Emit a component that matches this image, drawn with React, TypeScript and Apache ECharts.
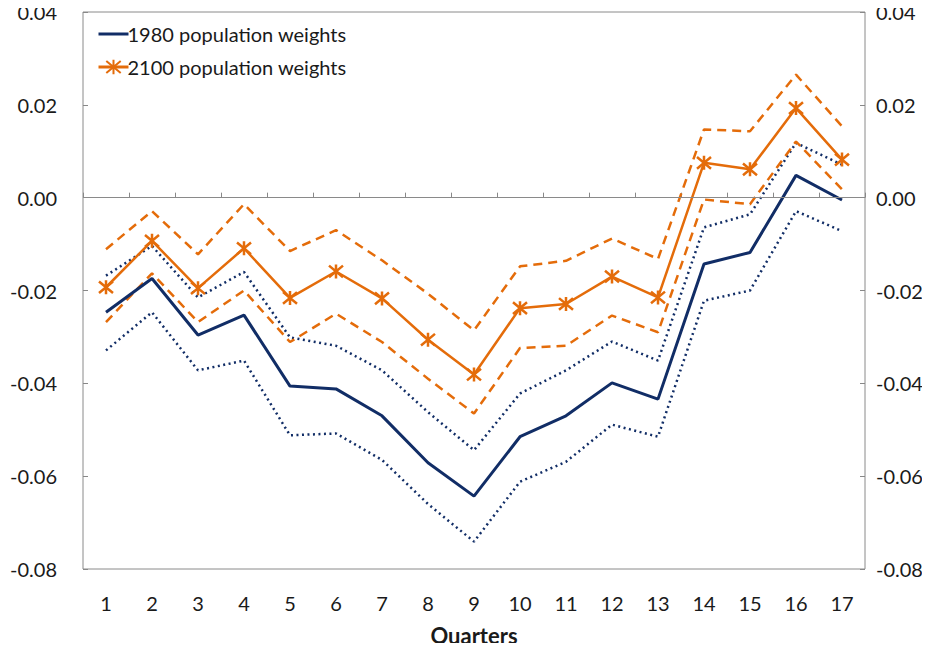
import React, { useEffect, useRef } from "react";
import * as echarts from "echarts";

const quarters = ["1", "2", "3", "4", "5", "6", "7", "8", "9", "10", "11", "12", "13", "14", "15", "16", "17"];

const pop1980 = [-0.0247, -0.0174, -0.0296, -0.0253, -0.0406, -0.0412, -0.047, -0.0571, -0.0643, -0.0515, -0.047, -0.0399, -0.0434, -0.0143, -0.0118, 0.0048, -0.0005];
const pop1980Upper = [-0.0168, -0.0104, -0.0215, -0.016, -0.0301, -0.0319, -0.0372, -0.0462, -0.0544, -0.0422, -0.0372, -0.031, -0.0351, -0.0064, -0.0036, 0.0118, 0.0071];
const pop1980Lower = [-0.0329, -0.0247, -0.0372, -0.0351, -0.0512, -0.0508, -0.0565, -0.066, -0.0741, -0.0612, -0.0569, -0.0489, -0.0515, -0.0222, -0.02, -0.0029, -0.0072];

const pop2100 = [-0.0193, -0.0093, -0.0195, -0.0109, -0.0216, -0.0159, -0.0217, -0.0306, -0.0381, -0.0238, -0.0229, -0.017, -0.0215, 0.0075, 0.0061, 0.0193, 0.0082];
const pop2100Upper = [-0.0111, -0.0029, -0.0122, -0.0014, -0.0115, -0.007, -0.0135, -0.0207, -0.0286, -0.0148, -0.0136, -0.0088, -0.0132, 0.0147, 0.0143, 0.0265, 0.0154];
const pop2100Lower = [-0.0268, -0.0163, -0.0268, -0.02, -0.0311, -0.025, -0.0311, -0.039, -0.0465, -0.0324, -0.0319, -0.0254, -0.029, -0.0004, -0.0014, 0.0121, 0.0018];

const NAVY = "#112d66";
const ORANGE = "#e46c0a";
const FONT = "Lato";
const TXT = "#1a1a1a";
const ASTERISK = "path://M0,0 L10,10 M10,0 L0,10 M5,-1 L5,11";

export default function App() {
  const ref = useRef<HTMLDivElement>(null);
  useEffect(() => {
    if (!ref.current) return;
    const chart = echarts.init(ref.current, null, { renderer: "svg" });
    const yAxisBase = {
      type: "value",
      min: -0.08,
      max: 0.04,
      interval: 0.02,
      splitLine: { show: false },
      axisLine: { show: false },
      axisTick: { show: true, inside: true, length: 5, lineStyle: { color: "#888" } },
      axisLabel: {
        formatter: (v: number) => v.toFixed(2),
        fontFamily: FONT,
        fontSize: 20,
        color: TXT,
      },
    };
    chart.setOption({
      animation: false,
      grid: {
        left: 83,
        right: 65,
        top: 12,
        bottom: 80,
        show: true,
        borderColor: "#8a8a8a",
        borderWidth: 1,
        backgroundColor: "transparent",
      },
      legend: {
        data: [
          { name: "1980 population weights", itemStyle: { opacity: 0 }, lineStyle: { width: 3 } },
          { name: "2100 population weights", lineStyle: { width: 3 } },
        ],
        orient: "vertical",
        left: 92,
        top: 19,
        itemGap: 13,
        itemWidth: 30,
        itemHeight: 18,
        textStyle: { fontFamily: FONT, fontSize: 20, color: TXT, padding: [0, 0, 0, -6] },
      },
      xAxis: {
        type: "category",
        data: quarters,
        boundaryGap: true,
        axisLine: { show: false },
        axisTick: { show: true, inside: true, length: 5, lineStyle: { color: "#888" } },
        axisLabel: { fontFamily: FONT, fontSize: 20, color: TXT, margin: 24 },
        name: "Quarters",
        nameLocation: "middle",
        nameGap: 55,
        nameTextStyle: { fontFamily: FONT, fontSize: 22, fontWeight: "bold", color: TXT },
      },
      yAxis: [
        { ...yAxisBase, position: "left", axisLabel: { ...yAxisBase.axisLabel, margin: 26 } },
        { ...yAxisBase, position: "right", axisLabel: { ...yAxisBase.axisLabel, margin: 11 } },
      ],
      series: [
        {
          name: "1980 upper",
          type: "line",
          data: pop1980Upper,
          symbol: "none",
          lineStyle: { color: NAVY, width: 2.5, type: [2, 3.5] },
          z: 2,
        },
        {
          name: "1980 lower",
          type: "line",
          data: pop1980Lower,
          symbol: "none",
          lineStyle: { color: NAVY, width: 2.5, type: [2, 3.5] },
          z: 2,
        },
        {
          name: "2100 upper",
          type: "line",
          data: pop2100Upper,
          symbol: "none",
          lineStyle: { color: ORANGE, width: 2.5, type: [9, 6] },
          z: 2,
        },
        {
          name: "2100 lower",
          type: "line",
          data: pop2100Lower,
          symbol: "none",
          lineStyle: { color: ORANGE, width: 2.5, type: [9, 6] },
          z: 2,
        },
        {
          name: "1980 population weights",
          type: "line",
          data: pop1980,
          symbol: "none",
          color: NAVY,
          lineStyle: { color: NAVY, width: 3 },
          z: 3,
          markLine: {
            silent: true,
            symbol: "none",
            label: { show: false },
            lineStyle: { color: "#8a8a8a", width: 1, type: "solid" },
            data: [{ yAxis: 0 }],
          },
        },
        {
          name: "2100 population weights",
          type: "line",
          data: pop2100,
          symbol: ASTERISK,
          symbolSize: 14,
          showAllSymbol: true,
          color: ORANGE,
          itemStyle: { color: ORANGE, borderColor: ORANGE, borderWidth: 2.5 },
          lineStyle: { color: ORANGE, width: 2.5 },
          z: 4,
        },
      ],
    });
    return () => chart.dispose();
  }, []);
  return <div ref={ref} style={{ width: 930, height: 651, margin: -8 }} />;
}
